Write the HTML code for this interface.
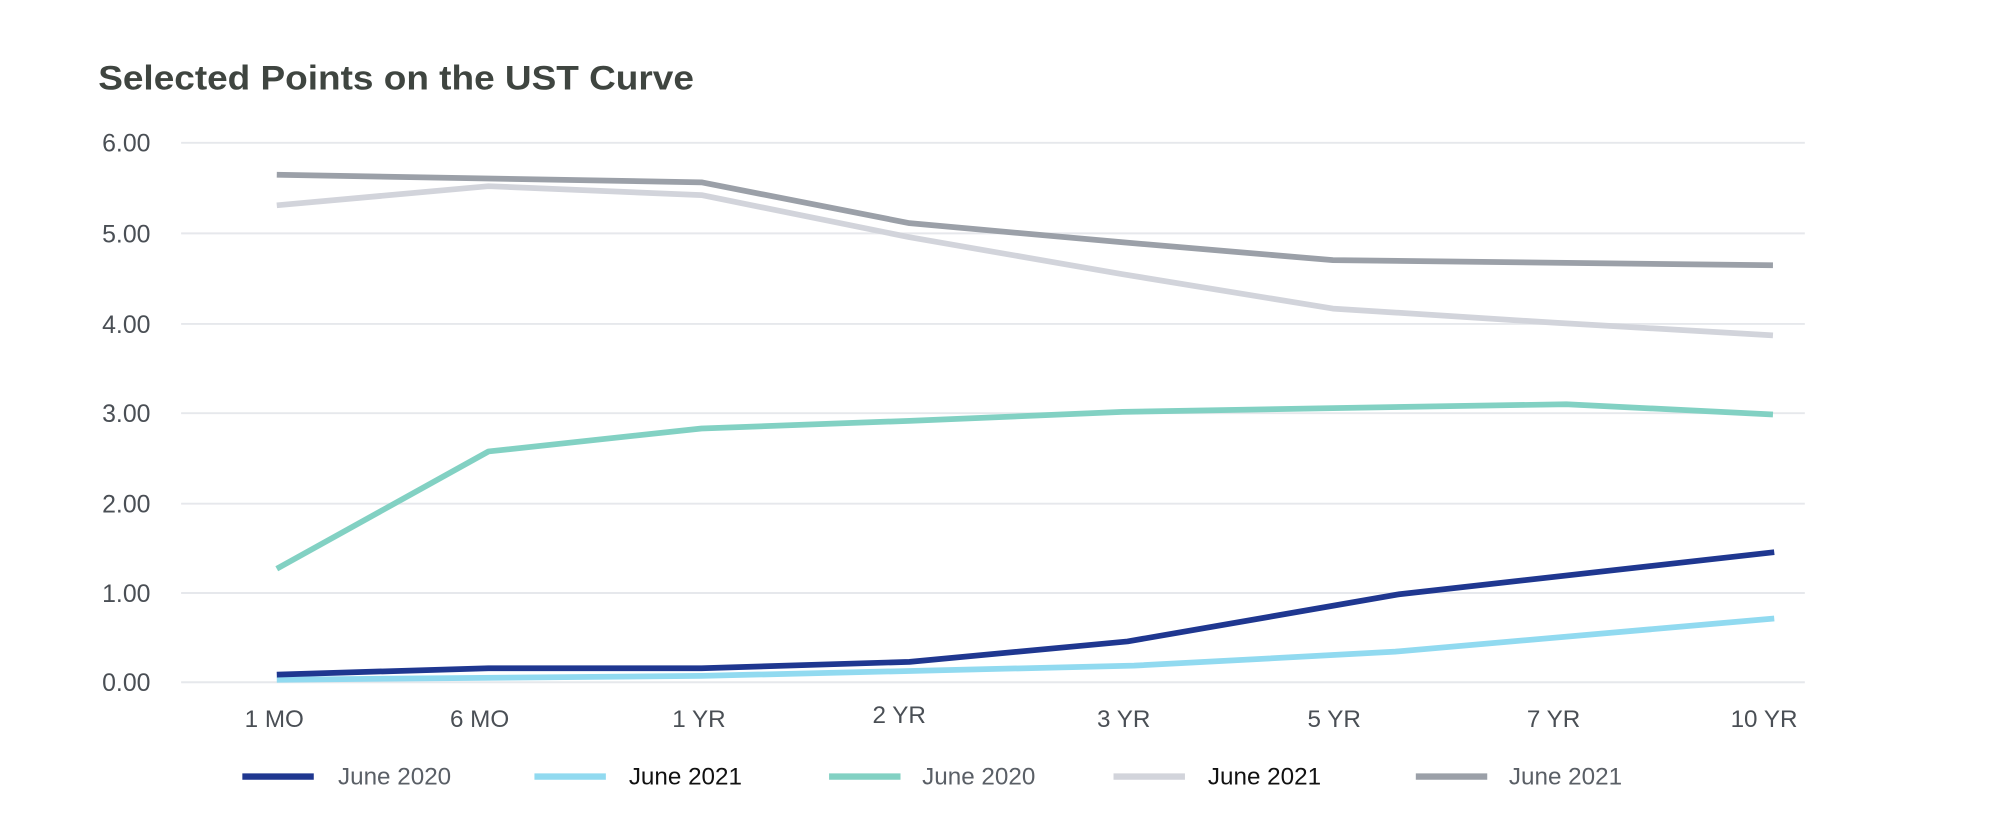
<!DOCTYPE html>
<html><head><meta charset="utf-8"><style>
html,body{margin:0;padding:0;background:#fff;}
svg{display:block;}
text{font-family:"Liberation Sans",sans-serif;}
</style></head><body>
<svg width="2000" height="834" viewBox="0 0 1568 654" preserveAspectRatio="none" xmlns="http://www.w3.org/2000/svg">
<rect width="1568" height="654" fill="#fff"/>
<text x="77" y="70" font-size="27" font-weight="bold" fill="#3f4540" textLength="467" lengthAdjust="spacingAndGlyphs">Selected Points on the UST Curve</text>
<g stroke="#e6e8ec" stroke-width="1.5">
<line x1="142" x2="1415" y1="112" y2="112"/>
<line x1="142" x2="1415" y1="183" y2="183"/>
<line x1="142" x2="1415" y1="254" y2="254"/>
<line x1="142" x2="1415" y1="324" y2="324"/>
<line x1="142" x2="1415" y1="395" y2="395"/>
<line x1="142" x2="1415" y1="465" y2="465"/>
<line x1="142" x2="1415" y1="535" y2="535"/>
</g>
<g font-size="19.5" fill="#4a4f55" text-anchor="end">
<text x="118" y="119">6.00</text>
<text x="118" y="190">5.00</text>
<text x="118" y="261">4.00</text>
<text x="118" y="331">3.00</text>
<text x="118" y="402">2.00</text>
<text x="118" y="472">1.00</text>
<text x="118" y="542">0.00</text>
</g>
<g font-size="19" fill="#4a4f55" text-anchor="middle">
<text x="215" y="570">1 MO</text>
<text x="376" y="570">6 MO</text>
<text x="548" y="570">1 YR</text>
<text x="705" y="567">2 YR</text>
<text x="881" y="570">3 YR</text>
<text x="1046" y="570">5 YR</text>
<text x="1218" y="570">7 YR</text>
<text x="1383" y="570">10 YR</text>
</g>
<g fill="none" stroke-width="4.5" stroke-linejoin="round">
<polyline stroke="#d2d4db" points="217,161 383,146 550,153 713,186 880,215 1045,242 1218,253 1390,263"/>
<polyline stroke="#9ba0a8" points="217,137 550,143 713,175 880,190 1045,204 1390,208"/>
<polyline stroke="#82d1c3" points="217,446 383,354 550,336 713,330 880,323 1045,320 1228,317 1390,325"/>
<polyline stroke="#91daf0" points="217,533 550,530 889,522 1094,511 1391,485"/>
<polyline stroke="#1f3790" points="217,529 383,524 550,524 713,519 884,503 1097,466 1391,433"/>
</g>
<g stroke-width="5">
<line x1="190" x2="246" y1="609" y2="609" stroke="#1f3790"/>
<line x1="419" x2="475" y1="609" y2="609" stroke="#91daf0"/>
<line x1="650" x2="706" y1="609" y2="609" stroke="#82d1c3"/>
<line x1="873" x2="929" y1="609" y2="609" stroke="#d2d4db"/>
<line x1="1110" x2="1166" y1="609" y2="609" stroke="#9ba0a8"/>
</g>
<g font-size="19">
<text x="265" y="615" fill="#5a5f66">June 2020</text>
<text x="493" y="615" fill="#111">June 2021</text>
<text x="723" y="615" fill="#5a5f66">June 2020</text>
<text x="947" y="615" fill="#111">June 2021</text>
<text x="1183" y="615" fill="#5a5f66">June 2021</text>
</g>
</svg>
</body></html>
